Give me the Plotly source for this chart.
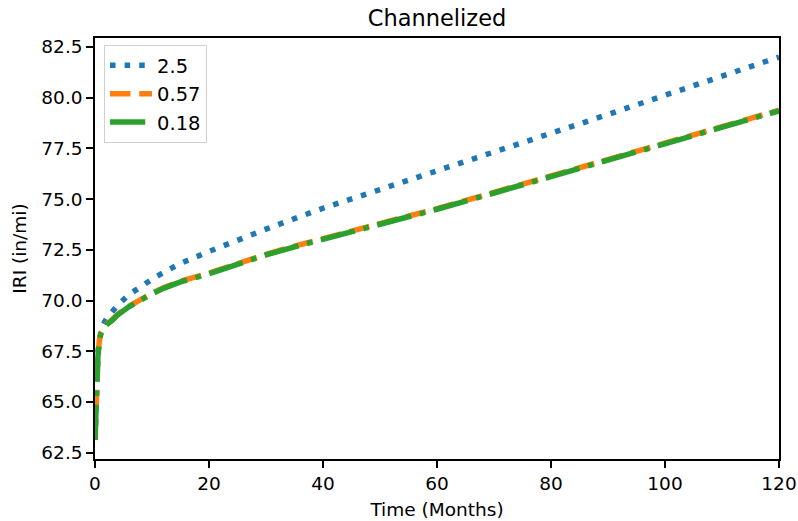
import plotly.graph_objects as go

# Time axis (months) and IRI series for each parameter value
months = [0, 0.25, 0.5, 0.75, 1, 1.5, 2, 3, 4, 6, 8, 10, 12, 15, 20, 25, 30,
          35, 40, 50, 60, 70, 80, 90, 100, 110, 120]

iri_2_5 = [63.13, 65.7, 67.35, 68.1, 68.47, 68.85, 69.1, 69.47, 69.78, 70.3,
           70.71, 71.05, 71.38, 71.83, 72.42, 73.0, 73.52, 74.04, 74.55, 75.47,
           76.38, 77.32, 78.26, 79.17, 80.12, 81.05, 82.0]

iri_0_57 = [63.16, 65.65, 67.25, 67.99, 68.39, 68.64, 68.83, 69.05, 69.33, 69.73,
            70.08, 70.36, 70.63, 70.95, 71.35, 71.83, 72.28, 72.68, 73.05, 73.75,
            74.53, 75.33, 76.13, 76.96, 77.78, 78.58, 79.38]

iri_0_18 = [63.13, 65.6, 67.2, 67.95, 68.35, 68.6, 68.8, 69.02, 69.3, 69.7,
            70.05, 70.33, 70.6, 70.92, 71.32, 71.8, 72.25, 72.65, 73.02, 73.72,
            74.5, 75.3, 76.1, 76.93, 77.75, 78.55, 79.35]

series_names = ["2.5", "0.57", "0.18"]
x_ticks = [0, 20, 40, 60, 80, 100, 120]
y_ticks = [62.5, 65.0, 67.5, 70.0, 72.5, 75.0, 77.5, 80.0, 82.5]

LW = 5.5
styles = [
    dict(color="#1f77b4", dash=f"{LW:.1f}px,{1.65 * LW:.1f}px"),
    dict(color="#ff7f0e", dash=f"{3.7 * LW:.1f}px,{1.6 * LW:.1f}px"),
    dict(color="#2ca02c", dash=f"{6.4 * LW:.1f}px,{1.6 * LW:.1f}px,{LW:.1f}px,{1.6 * LW:.1f}px"),
]

fig = go.Figure()
for name, values, st in zip(series_names, [iri_2_5, iri_0_57, iri_0_18], styles):
    fig.add_trace(go.Scatter(
        x=months, y=values, mode="lines", name=name,
        line=dict(color=st["color"], width=LW, dash=st["dash"]),
    ))

FONT = "DejaVu Sans"
axis_common = dict(
    showline=True, mirror=True, linecolor="black", linewidth=1.5,
    ticks="outside", ticklen=7, tickwidth=1.5, tickcolor="black",
    showgrid=False, zeroline=False, automargin=False,
    tickfont=dict(family=FONT, size=18.5, color="black"),
)

fig.update_layout(
    width=798, height=521,
    margin=dict(l=95, r=19, t=38, b=62),
    paper_bgcolor="white", plot_bgcolor="white",
    font=dict(family=FONT, size=18.5, color="black"),
    title=dict(text="Channelized", x=0.5, xref="paper", y=1 - 18.5 / 521,
               yref="container", yanchor="middle",
               font=dict(family=FONT, size=22.5, color="black")),
    xaxis=dict(range=[0, 120], tickvals=x_ticks,
               title=dict(text="Time (Months)", standoff=10,
                          font=dict(family=FONT, size=18.5)),
               **axis_common),
    yaxis=dict(range=[62.19, 82.94], tickvals=y_ticks, tickformat=".1f",
               title=dict(text="IRI (in/mi)", standoff=10,
                          font=dict(family=FONT, size=18.5)),
               **axis_common),
    showlegend=True,
    legend=dict(x=0.0132, y=0.983, xanchor="left", yanchor="top",
                bgcolor="white", bordercolor="#d0d0d0", borderwidth=1,
                font=dict(family=FONT, size=19.5, color="black"),
                itemwidth=42, tracegroupgap=0),
)

fig.write_html("out.html")
